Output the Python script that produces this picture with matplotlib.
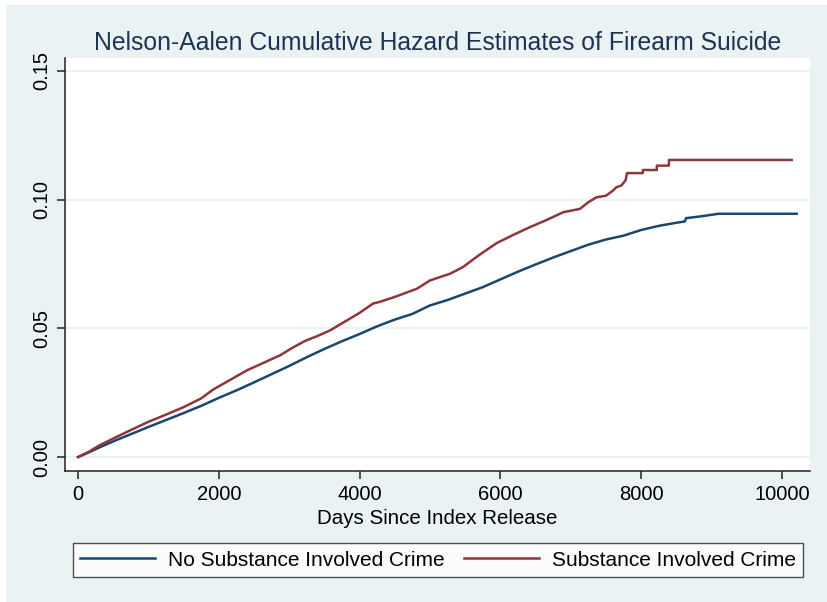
import matplotlib
matplotlib.use("Agg")
import matplotlib.pyplot as plt
from matplotlib.patches import Rectangle

# Nelson-Aalen cumulative hazard, read at selected days since release
days_no_sub = [0, 150, 300, 500, 750, 1000, 1250, 1500, 1750, 2000, 2250, 2500,
               2750, 3000, 3250, 3500, 3750, 4000, 4250, 4500, 4750, 5000, 5250,
               5500, 5750, 6000, 6250, 6500, 6750, 7000, 7250, 7500, 7750, 8000,
               8250, 8500, 8620, 8640, 8850, 9100, 10210]
haz_no_sub = [0.0, 0.0018, 0.0037, 0.0061, 0.0089, 0.0117, 0.0144, 0.0171,
              0.0199, 0.0230, 0.0259, 0.0290, 0.0322, 0.0354, 0.0388, 0.0420,
              0.0450, 0.0478, 0.0508, 0.0534, 0.0556, 0.0589, 0.0610, 0.0635,
              0.0660, 0.0690, 0.0720, 0.0748, 0.0775, 0.0800, 0.0825, 0.0845,
              0.0860, 0.0882, 0.0898, 0.0910, 0.0915, 0.0928, 0.0935, 0.0945,
              0.0945]

days_sub = [0, 150, 300, 500, 750, 1000, 1250, 1500, 1750, 1918, 2150, 2401,
            2650, 2869, 3050, 3224, 3400, 3580, 3821, 4000, 4190, 4300, 4500,
            4815, 5000, 5284, 5469, 5700, 5947, 6200, 6420, 6650, 6894, 7131,
            7250, 7367, 7500, 7600, 7650, 7720, 7780, 7800, 8025, 8025, 8224,
            8224, 8395, 8395, 10140]
haz_sub = [0.0, 0.0020, 0.0045, 0.0072, 0.0105, 0.0137, 0.0165, 0.0194, 0.0228,
           0.0262, 0.0298, 0.0337, 0.0368, 0.0395, 0.0425, 0.0451, 0.0470,
           0.0492, 0.0531, 0.0560, 0.0596, 0.0604, 0.0622, 0.0654, 0.0686,
           0.0712, 0.0738, 0.0785, 0.0831, 0.0865, 0.0893, 0.0920, 0.0951,
           0.0964, 0.0990, 0.1009, 0.1015, 0.1035, 0.1048, 0.1055, 0.1075,
           0.1103, 0.1103, 0.1115, 0.1115, 0.1132, 0.1132, 0.1154, 0.1154]

labels = ["No Substance Involved Crime", "Substance Involved Crime"]
x_ticks = [0, 2000, 4000, 6000, 8000, 10000]
y_ticks = [0.00, 0.05, 0.10, 0.15]

BG = "#EAF2F3"
NAVY = "#1A476F"
MAROON = "#90353B"

plt.rcParams["font.family"] = ["Liberation Sans", "DejaVu Sans"]

W, H = 827, 602
fig = plt.figure(figsize=(W / 100, H / 100), dpi=100, facecolor="white")
fig.patches.append(Rectangle((6 / W, 0), 1, (H - 5) / H, transform=fig.transFigure,
                             facecolor=BG, edgecolor="none", zorder=-10))

ax = fig.add_axes([65 / W, (H - 471) / H, (810 - 65) / W, (471 - 58) / H])
ax.set_facecolor("white")

ax.plot(days_no_sub, haz_no_sub, color=NAVY, lw=1.8, label=labels[0])
ax.plot(days_sub, haz_sub, color=MAROON, lw=1.8, label=labels[1])

ax.set_xlim(-185, 10400)
ax.set_ylim(-0.0054, 0.155)
ax.set_xticks(x_ticks)
ax.set_yticks(y_ticks)
ax.set_yticklabels([f"{v:.2f}" for v in y_ticks], rotation=90, va="center")
ax.grid(axis="y", color=BG, lw=1.4)
ax.set_axisbelow(True)
for side in ("top", "right"):
    ax.spines[side].set_visible(False)
for side in ("left", "bottom"):
    ax.spines[side].set_color("#222222")
    ax.spines[side].set_linewidth(1.1)
ax.tick_params(axis="both", direction="out", length=6, width=1.1,
               color="#222222", labelsize=14.5, pad=4)

ax.set_xlabel("Days Since Index Release", fontsize=14.8, labelpad=4)
ax.set_title("Nelson-Aalen Cumulative Hazard Estimates of Firearm Suicide",
             fontsize=17.8, color="#1E3254", pad=6)

leg = fig.legend(loc="lower left", ncol=2, mode="expand",
                 bbox_to_anchor=(73 / W, (H - 577) / H, (803 - 73) / W, (577 - 539) / H),
                 fontsize=15, frameon=True, fancybox=False, handlelength=3.6,
                 borderaxespad=0, borderpad=0.35, handletextpad=0.6)
leg.get_frame().set_edgecolor("#222222")
leg.get_frame().set_linewidth(1.0)
leg.get_frame().set_facecolor("white")

fig.savefig("out.png", dpi=100, facecolor=fig.get_facecolor())
